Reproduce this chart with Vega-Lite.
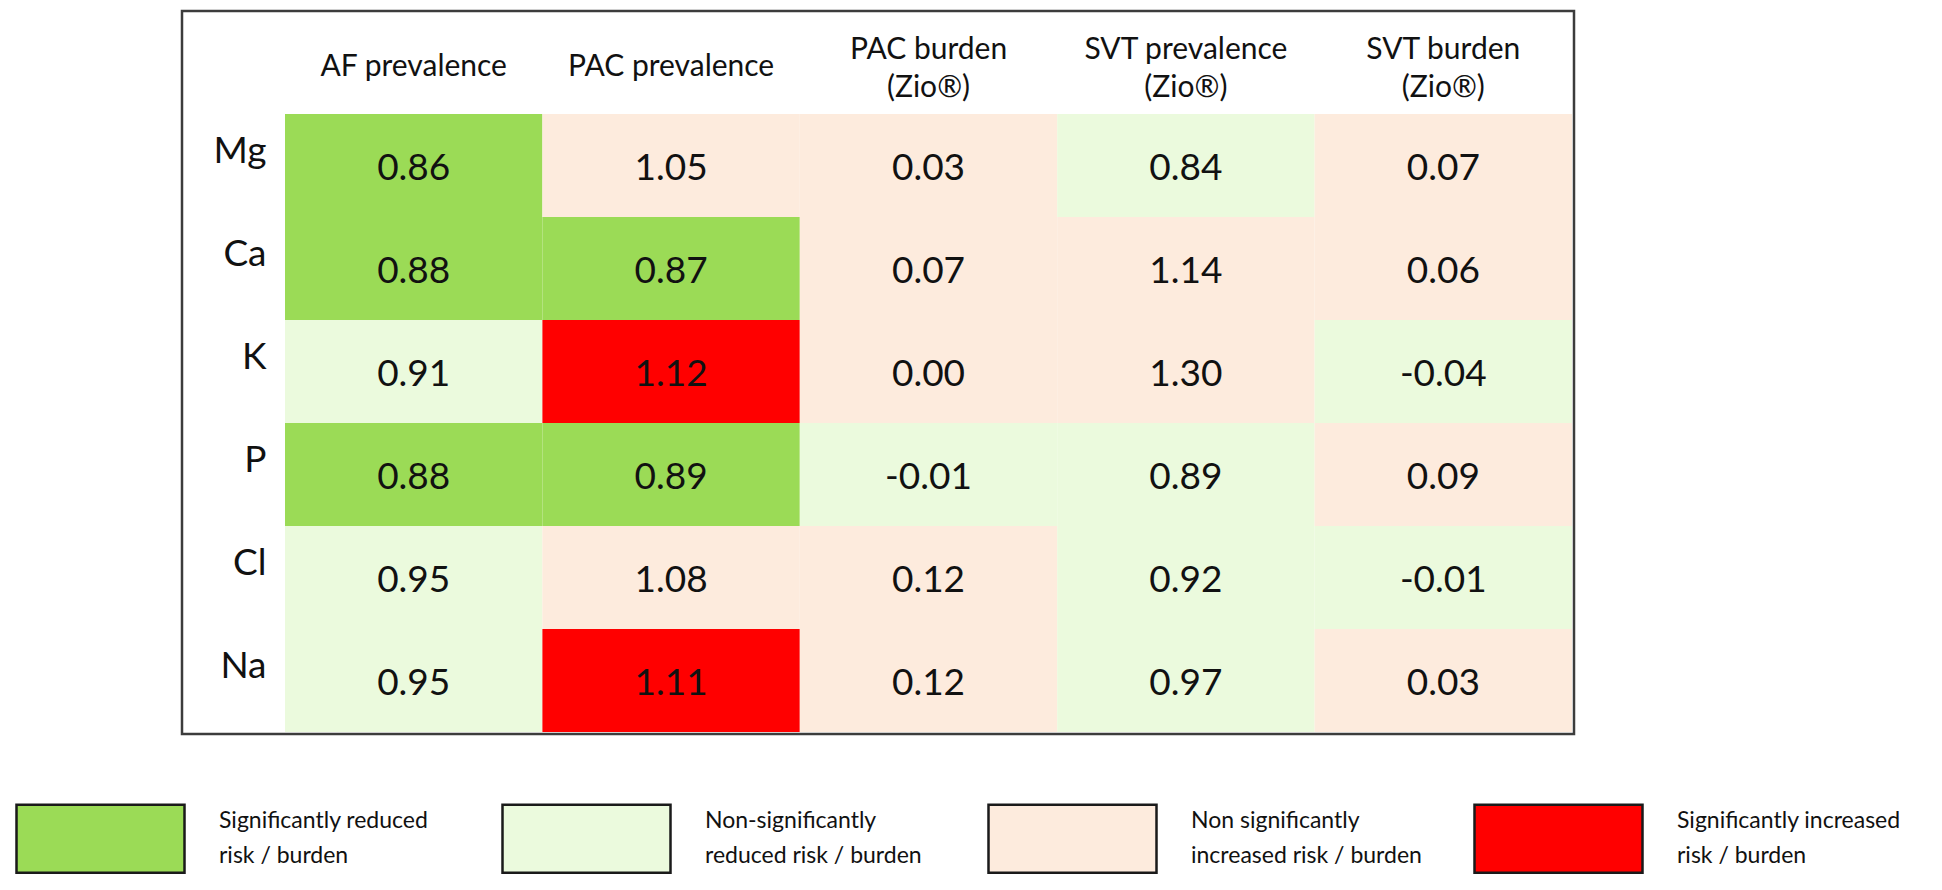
{
  "$schema": "https://vega.github.io/schema/vega-lite/v6.json",
  "width": 1392,
  "height": 723,
  "padding": {"left": 15, "top": 11, "right": 0, "bottom": 0},
  "background": "white",
  "config": {
    "font": "Lato",
    "view": {"stroke": "#3c3c3c", "strokeWidth": 2.5},
    "locale": {"number": {"decimal": ".", "thousands": ",", "grouping": [3], "currency": ["", ""], "minus": "-"}}
  },
  "data": {
    "values": [
      {"element": "Mg", "column": "AF prevalence", "value": 0.86, "category": "Significantly reduced risk / burden"},
      {"element": "Mg", "column": "PAC prevalence", "value": 1.05, "category": "Non significantly increased risk / burden"},
      {"element": "Mg", "column": "PAC burden (Zio®)", "value": 0.03, "category": "Non significantly increased risk / burden"},
      {"element": "Mg", "column": "SVT prevalence (Zio®)", "value": 0.84, "category": "Non-significantly reduced risk / burden"},
      {"element": "Mg", "column": "SVT burden (Zio®)", "value": 0.07, "category": "Non significantly increased risk / burden"},
      {"element": "Ca", "column": "AF prevalence", "value": 0.88, "category": "Significantly reduced risk / burden"},
      {"element": "Ca", "column": "PAC prevalence", "value": 0.87, "category": "Significantly reduced risk / burden"},
      {"element": "Ca", "column": "PAC burden (Zio®)", "value": 0.07, "category": "Non significantly increased risk / burden"},
      {"element": "Ca", "column": "SVT prevalence (Zio®)", "value": 1.14, "category": "Non significantly increased risk / burden"},
      {"element": "Ca", "column": "SVT burden (Zio®)", "value": 0.06, "category": "Non significantly increased risk / burden"},
      {"element": "K", "column": "AF prevalence", "value": 0.91, "category": "Non-significantly reduced risk / burden"},
      {"element": "K", "column": "PAC prevalence", "value": 1.12, "category": "Significantly increased risk / burden"},
      {"element": "K", "column": "PAC burden (Zio®)", "value": 0.00, "category": "Non significantly increased risk / burden"},
      {"element": "K", "column": "SVT prevalence (Zio®)", "value": 1.30, "category": "Non significantly increased risk / burden"},
      {"element": "K", "column": "SVT burden (Zio®)", "value": -0.04, "category": "Non-significantly reduced risk / burden"},
      {"element": "P", "column": "AF prevalence", "value": 0.88, "category": "Significantly reduced risk / burden"},
      {"element": "P", "column": "PAC prevalence", "value": 0.89, "category": "Significantly reduced risk / burden"},
      {"element": "P", "column": "PAC burden (Zio®)", "value": -0.01, "category": "Non-significantly reduced risk / burden"},
      {"element": "P", "column": "SVT prevalence (Zio®)", "value": 0.89, "category": "Non-significantly reduced risk / burden"},
      {"element": "P", "column": "SVT burden (Zio®)", "value": 0.09, "category": "Non significantly increased risk / burden"},
      {"element": "Cl", "column": "AF prevalence", "value": 0.95, "category": "Non-significantly reduced risk / burden"},
      {"element": "Cl", "column": "PAC prevalence", "value": 1.08, "category": "Non significantly increased risk / burden"},
      {"element": "Cl", "column": "PAC burden (Zio®)", "value": 0.12, "category": "Non significantly increased risk / burden"},
      {"element": "Cl", "column": "SVT prevalence (Zio®)", "value": 0.92, "category": "Non-significantly reduced risk / burden"},
      {"element": "Cl", "column": "SVT burden (Zio®)", "value": -0.01, "category": "Non-significantly reduced risk / burden"},
      {"element": "Na", "column": "AF prevalence", "value": 0.95, "category": "Non-significantly reduced risk / burden"},
      {"element": "Na", "column": "PAC prevalence", "value": 1.11, "category": "Significantly increased risk / burden"},
      {"element": "Na", "column": "PAC burden (Zio®)", "value": 0.12, "category": "Non significantly increased risk / burden"},
      {"element": "Na", "column": "SVT prevalence (Zio®)", "value": 0.97, "category": "Non-significantly reduced risk / burden"},
      {"element": "Na", "column": "SVT burden (Zio®)", "value": 0.03, "category": "Non significantly increased risk / burden"}
    ]
  },
  "encoding": {
    "x": {
      "field": "column",
      "type": "nominal",
      "sort": ["AF prevalence", "PAC prevalence", "PAC burden (Zio®)", "SVT prevalence (Zio®)", "SVT burden (Zio®)"],
      "scale": {"range": [103, 1390], "paddingInner": 0, "paddingOuter": 0},
      "axis": {
        "orient": "top",
        "offset": -103,
        "title": null,
        "domain": false,
        "ticks": false,
        "tickSize": 0,
        "grid": false,
        "labelAngle": 0,
        "labelFontSize": 30,
        "labelLineHeight": 38,
        "labelColor": "#111111",
        "labelBaseline": "middle",
        "labelPadding": {"condition": {"test": "indexof(datum.value, ' (') > 0", "value": 65}, "value": 47.5},
        "labelLimit": 400,
        "labelExpr": "indexof(datum.label, ' (') > 0 ? [slice(datum.label, 0, indexof(datum.label, ' (')), slice(datum.label, indexof(datum.label, ' (') + 1)] : datum.label"
      }
    },
    "y": {
      "field": "element",
      "type": "nominal",
      "sort": ["Mg", "Ca", "K", "P", "Cl", "Na"],
      "scale": {"range": [103, 721], "paddingInner": 0, "paddingOuter": 0},
      "axis": {
        "orient": "left",
        "offset": -103,
        "title": null,
        "domain": false,
        "ticks": false,
        "tickSize": 0,
        "grid": false,
        "labelFontSize": 37,
        "labelColor": "#111111",
        "labelAlign": "right",
        "labelBaseline": "middle",
        "labelPadding": 19,
        "labelOffset": -14
      }
    }
  },
  "layer": [
    {
      "mark": {"type": "rect"},
      "encoding": {
        "color": {
          "field": "category",
          "type": "nominal",
          "scale": {
            "domain": ["Significantly reduced risk / burden", "Non-significantly reduced risk / burden", "Non significantly increased risk / burden", "Significantly increased risk / burden"],
            "range": ["#9BDB56", "#EBFADD", "#FDEBDD", "#FF0000"]
          },
          "legend": {
            "title": null,
            "orient": "none",
            "legendX": -167,
            "legendY": 742,
            "direction": "horizontal",
            "columns": 4,
            "gridAlign": "all",
            "columnPadding": 47,
            "padding": 0,
            "symbolType": "M-1,-0.405L1,-0.405L1,0.405L-1,0.405Z",
            "symbolSize": 28224,
            "symbolStrokeColor": "#1a1a1a",
            "symbolStrokeWidth": 2.5,
            "symbolOpacity": 1,
            "labelFontSize": 23,
            "labelOffset": 33,
            "labelLimit": 400,
            "labelBaseline": "middle",
            "labelColor": "#111111",
            "labelExpr": "indexof(datum.label, 'Non') == 0 ? [slice(datum.label, 0, indexof(datum.label, 'ly ') + 2), slice(datum.label, indexof(datum.label, 'ly ') + 3)] : [slice(datum.label, 0, indexof(datum.label, ' risk')), slice(datum.label, indexof(datum.label, ' risk') + 1)]",
            "encode": {
              "labels": {"update": {"lineHeight": {"value": 35}, "dy": {"value": -17.5}}}
            }
          }
        }
      }
    },
    {
      "mark": {"type": "text", "fontSize": 37, "baseline": "middle", "dy": 3, "color": "#111111"},
      "encoding": {
        "text": {"field": "value", "type": "quantitative", "format": ".2f"}
      }
    }
  ]
}
